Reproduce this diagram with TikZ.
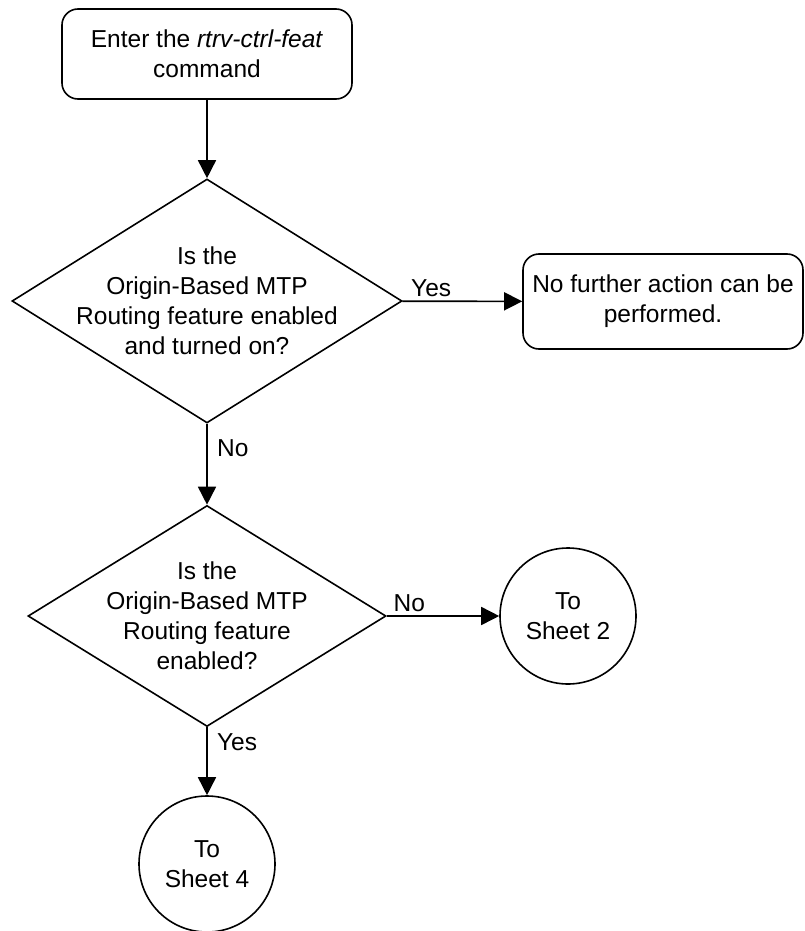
\documentclass[tikz,border=0pt]{standalone}
\usepackage{fontspec}
\setmainfont{Liberation Sans}
\usetikzlibrary{positioning, arrows.meta, shapes.geometric}

\begin{document}
\begin{tikzpicture}[x=1pt, y=-1pt,
    every node/.style={font=\fontsize{24.5}{30}\selectfont, align=center},
    procbox/.style={draw, line width=1.6pt, rounded corners=16pt, inner sep=0pt},
    decision/.style={draw, diamond, line width=1.6pt, inner sep=0pt},
    sheetref/.style={draw, circle, line width=1.6pt, inner sep=0pt, minimum size=136pt},
    flow/.style={-{Triangle[length=18pt, width=18pt]}, line width=1.6pt}]
  \useasboundingbox (0,0) rectangle (804,931);
  % Start
  \node[procbox, minimum width=290pt, minimum height=90pt] (enter) at (207,54)
    {Enter the \textit{rtrv-ctrl-feat}\\command};
  % First question
  \node[decision, minimum width=390pt, minimum height=244pt,
    label={center:{Is the\\Origin-Based MTP\\Routing feature enabled\\and turned on?}}]
    (onq) at (207,301) {};
  \node[procbox, minimum width=280pt, minimum height=95pt] (noaction) at (663,301.5)
    {No further action can be\\performed.};
  % Second question
  \node[decision, minimum width=358pt, minimum height=221pt,
    label={center:{Is the\\Origin-Based MTP\\Routing feature\\enabled?}}]
    (enq) at (207,616) {};
  \node[sheetref] (sheet2) at (568,616) {To\\Sheet 2};
  \node[sheetref] (sheet4) at (207,864) {To\\Sheet 4};
  % Connectors
  \draw[flow] (enter) -- (onq);
  \draw[flow] (onq) -- (noaction) node[pos=0.24, above] {Yes};
  \draw[flow] (onq) -- (enq) node[pos=0.3, right=6pt] {No};
  \draw[flow] (enq) -- (sheet2) node[pos=0.2, above] {No};
  \draw[flow] (enq) -- (sheet4) node[pos=0.22, right=6pt] {Yes};
\end{tikzpicture}
\end{document}
